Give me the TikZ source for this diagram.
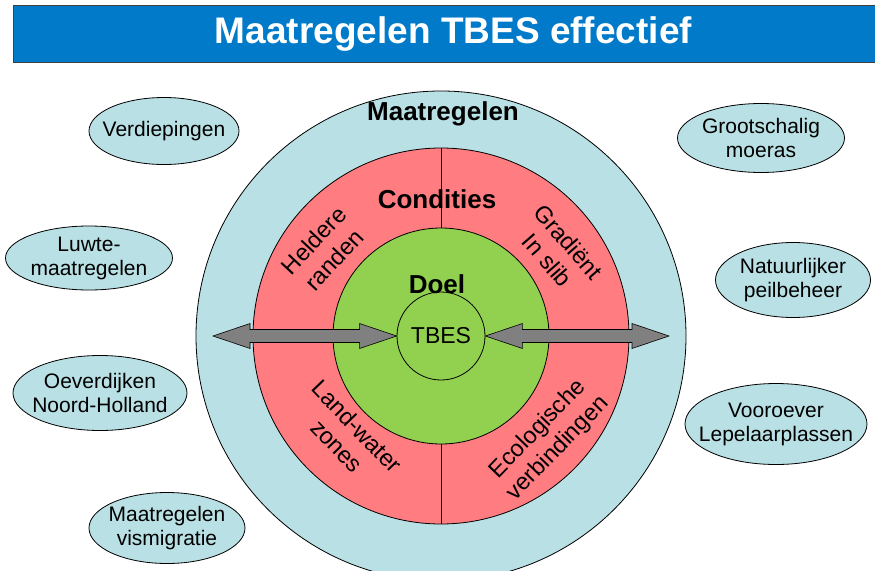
\documentclass[tikz,border=0pt]{standalone}
\usepackage{fontspec}
\setmainfont{Liberation Sans}
\usetikzlibrary{shapes.geometric,calc}
\definecolor{barblue}{RGB}{0,122,201}
\definecolor{ringblue}{RGB}{185,224,228}
\definecolor{ringred}{RGB}{255,124,128}
\definecolor{ringgreen}{RGB}{146,208,80}
\definecolor{arrowgray}{RGB}{128,128,128}
\newcommand{\bigarrow}[2]
{   \draw[arrowbody] (#1) -- ++(37,-12.5) -- ++(0,6) -- ($(#2)+(-37,-6.5)$) -- ++(0,-6) -- (#2)
      -- ++(-37,12.5) -- ++(0,-6) -- ($(#1)+(37,6.5)$) -- ++(0,6) -- cycle;
}
\newcommand{\ringfont}{\fontsize{21}{24}\selectfont}

\begin{document}
\begin{tikzpicture}[x=1pt,y=-1pt,
  ring/.style={circle,draw,line width=0.8pt,inner sep=0pt},
  measure/.style={ellipse,draw,fill=ringblue,line width=0.8pt,inner xsep=-40pt,inner ysep=-15pt,align=center,font=\ringfont},
  ringtext/.style={align=center,font=\fontsize{23.5}{28}\selectfont},
  heading/.style={font=\fontsize{26}{30}\selectfont\bfseries},
  arrowbody/.style={draw,fill=arrowgray,line width=0.6pt,line join=miter}]

 \clip (0,0) rectangle (875,570);
 % title bar
 \node[fill=barblue,draw=black!75,line width=1pt,minimum width=880pt,minimum height=57pt,anchor=north west,inner sep=0pt,
   text=white,font=\fontsize{37}{40}\selectfont\bfseries] (title) at (13,5) {Maatregelen TBES effectief};

 % rings
 \node[ring,fill=ringblue,minimum size=490pt] (outer) at (441,336) {};
 \node[ring,fill=ringred,minimum size=376pt] (red) at (441,336) {};
 \draw[line width=0.8pt] (red.north) -- (red.south);
 \node[ring,fill=ringgreen,minimum size=216pt] (green) at (441,336) {};
 \node[ring,minimum size=88pt,font=\fontsize{23}{26}\selectfont] (tbes) at (441,336) {TBES};

 % arrows
 \coordinate (lefttip) at (213,336);
 \coordinate (righttip) at (669,336);
 \bigarrow{lefttip}{tbes.west}
 \bigarrow{tbes.east}{righttip}

 % ring labels
 \node[heading] (maat) at (443,114) {Maatregelen};
 \node[heading] (cond) at (437,199) {Condities};
 \node[heading] (doel) at (437,284) {Doel};
 \node[ringtext,rotate=47] (helder) at (324,250) {Heldere\\randen};
 \node[ringtext,rotate=-49] (grad) at (558,251) {Gradiënt\\In slib};
 \node[ringtext,rotate=-46] (land) at (347,436) {Land-water\\zones};
 \node[ringtext,rotate=46] (eco) at (548,439) {Ecologische\\verbindingen};

 % measures around
 \node[measure,minimum width=150pt,minimum height=67pt] (verd) at (164,131) {Verdiepingen};
 \node[measure,minimum width=167pt,minimum height=64pt] (luwte) at (89,258) {Luwte-\\maatregelen};
 \node[measure,minimum width=174pt,minimum height=75pt] (oever) at (100,393) {Oeverdijken\\Noord-Holland};
 \node[measure,minimum width=156pt,minimum height=71pt] (vis) at (167,528) {Maatregelen\\vismigratie};
 \node[measure,minimum width=167pt,minimum height=69pt] (moeras) at (761,138) {Grootschalig\\moeras};
 \node[measure,minimum width=155pt,minimum height=75pt] (peil) at (793,280) {Natuurlijker\\peilbeheer};
 \node[measure,minimum width=182pt,minimum height=81pt] (lepel) at (776,424) {Vooroever\\Lepelaarplassen};

\end{tikzpicture}
\end{document}
